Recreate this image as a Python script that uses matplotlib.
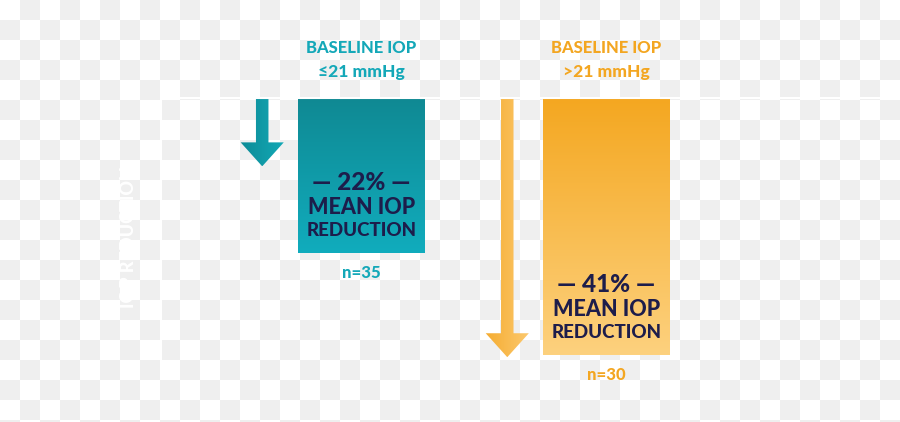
import numpy as np
import matplotlib.pyplot as plt
from matplotlib.colors import LinearSegmentedColormap, ListedColormap
from matplotlib.patches import FancyArrow

groups = ["≤21 mmHg", ">21 mmHg"]
reduction_pct = [22, 41]
n_eyes = [35, 30]
# how far each box / arrow reaches down (chart units, as drawn)
box_depth = [22, 36.5]
arrow_depth = [9.7, 36.8]

bar_colors = [("#0f8993", "#11acbd"), ("#f4a720", "#fdd17e")]
arrow_colors = [("#0d8b96", "#13a9b7"), ("#f5ac30", "#fcc96f")]
title_colors = ["#14a8b8", "#f3a621"]
navy = "#1d1d4b"
fam = ["Lato", "DejaVu Sans"]
wt = "black"

fig = plt.figure(figsize=(9, 4.22), dpi=100)

# transparent-looking checkerboard background
bg = fig.add_axes([0, 0, 1, 1])
rows, cols = np.indices((22, 45))
checker = (rows + cols) % 2
bg.imshow(checker, cmap=ListedColormap(["white", "#efefef"]), extent=(0, 900, 440, 0),
          interpolation="nearest", aspect="auto")
bg.set_xlim(0, 900)
bg.set_ylim(422, 0)
bg.axis("off")

ax = fig.add_axes([161 / 900, 1 - 360 / 422, 719 / 900, 262 / 422])
ax.patch.set_alpha(0)
x = np.arange(len(groups))
width = 0.518

bars = ax.bar(x, box_depth, width=width, color="none", zorder=2)
for i, b in enumerate(bars):
    cmap = LinearSegmentedColormap.from_list("g%d" % i, bar_colors[i])
    grad = np.linspace(0, 1, 256).reshape(-1, 1)
    im = ax.imshow(grad, cmap=cmap, aspect="auto", zorder=2,
                   extent=(x[i] - width / 2, x[i] + width / 2, box_depth[i], 0))
    im.set_clip_path(b)

    # arrow next to the box
    arr = FancyArrow(x[i] - 0.405, 0, 0, arrow_depth[i], width=0.051, head_width=0.176,
                     head_length=3.4, length_includes_head=True, color="none", zorder=2)
    ax.add_patch(arr)
    acmap = LinearSegmentedColormap.from_list("a%d" % i, arrow_colors[i])
    agrad = np.linspace(0, 1, 256).reshape(1, -1)
    aim = ax.imshow(agrad, cmap=acmap, aspect="auto", zorder=2,
                    extent=(x[i] - 0.405 - 0.09, x[i] - 0.405 + 0.09, arrow_depth[i], 0))
    aim.set_clip_path(arr)

    # headers
    ax.annotate("BASELINE IOP", xy=(x[i], 0), xytext=(0, 36), textcoords="offset points",
                ha="center", va="center", fontsize=12, fontweight=wt,
                color=title_colors[i], family=fam, annotation_clip=False)
    ax.annotate(groups[i], xy=(x[i], 0), xytext=(0, 19), textcoords="offset points",
                ha="center", va="center", fontsize=12.5, fontweight=wt,
                color=title_colors[i], family=fam, annotation_clip=False)

    # labels inside the box
    ax.annotate("— %d%% —" % reduction_pct[i], xy=(x[i], box_depth[i]), xytext=(0, 50.5),
                textcoords="offset points", ha="center", va="center", fontsize=17.5,
                fontweight=wt, color=navy, family=fam, zorder=3)
    ax.annotate("MEAN IOP", xy=(x[i], box_depth[i]), xytext=(0, 32.5),
                textcoords="offset points", ha="center", va="center", fontsize=15.5,
                fontweight=wt, color=navy, family=fam, zorder=3)
    ax.annotate("REDUCTION", xy=(x[i], box_depth[i]), xytext=(0, 16.2),
                textcoords="offset points", ha="center", va="center", fontsize=13.5,
                fontweight=wt, color=navy, family=fam, zorder=3)

    ax.annotate("n=%d" % n_eyes[i], xy=(x[i], box_depth[i]), xytext=(0, -14.5),
                textcoords="offset points", ha="center", va="center", fontsize=12,
                fontweight=wt, color=title_colors[i], family=fam, annotation_clip=False)

ax.set_xlim(-0.818, 2.116)
ax.set_ylim(37.2, 0)
ax.set_xticks([])
ax.set_yticks([])
for side in ["bottom", "right"]:
    ax.spines[side].set_visible(False)
for side in ["top", "left"]:
    ax.spines[side].set_color("white")
    ax.spines[side].set_linewidth(1.5)

ax.set_ylabel("IOP REDUCTION", color="white", fontsize=13, fontweight=wt, family=fam)
ax.yaxis.set_label_coords(-0.033, 0.47)

fig.savefig("out.png", dpi=100)
